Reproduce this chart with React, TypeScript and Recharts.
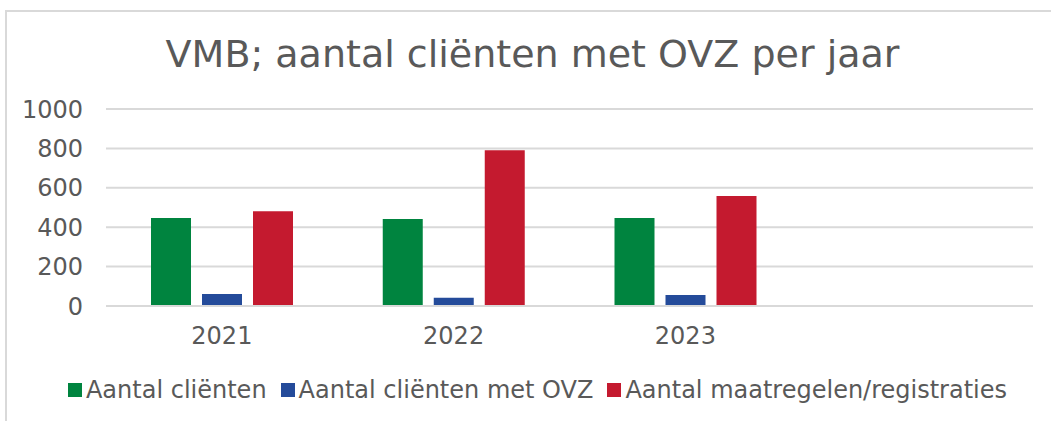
import React from "react";
import {
  BarChart,
  Bar,
  XAxis,
  YAxis,
  CartesianGrid,
  Legend,
} from "recharts";

const years = ["2021", "2022", "2023", ""];
const clienten = [447, 441, 447, null];
const clientenOvz = [61, 42, 56, null];
const maatregelen = [481, 790, 558, null];
const yTicks = [0, 200, 400, 600, 800, 1000];

const SERIES = [
  { key: "clienten", name: "Aantal cliënten", color: "#00843F" },
  { key: "ovz", name: "Aantal cliënten met OVZ", color: "#244B9A" },
  { key: "maatregelen", name: "Aantal maatregelen/registraties", color: "#C41A2F" },
];

const data = years.map((year, i) => ({
  year,
  clienten: clienten[i],
  ovz: clientenOvz[i],
  maatregelen: maatregelen[i],
}));

const FONT = "'DejaVu Sans', Verdana, sans-serif";
const TEXT = "#595959";

function ChartLegend() {
  return (
    <div
      style={{
        display: "flex",
        justifyContent: "center",
        alignItems: "center",
        height: 40,
        paddingLeft: 42,
        fontFamily: FONT,
        fontSize: 24,
        color: TEXT,
      }}
    >
      {SERIES.map((s, i) => (
        <div
          key={s.key}
          style={{ display: "flex", alignItems: "center", marginLeft: i === 0 ? 0 : 14 }}
        >
          <span
            style={{
              width: 14,
              height: 14,
              background: s.color,
              display: "inline-block",
              marginRight: 4,
            }}
          />
          <span>{s.name}</span>
        </div>
      ))}
    </div>
  );
}

export default function App() {
  return (
    <div
      style={{
        position: "absolute",
        left: 0,
        top: 0,
        width: 1051,
        height: 421,
        background: "#fff",
        overflow: "hidden",
      }}
    >
      <div
        style={{
          position: "absolute",
          left: 5,
          top: 10,
          width: 1100,
          height: 500,
          borderTop: "2px solid #d9d9d9",
          borderLeft: "2px solid #d9d9d9",
        }}
      />
      <div
        style={{
          position: "absolute",
          left: 0,
          top: 31,
          width: 1065,
          textAlign: "center",
          fontFamily: FONT,
          fontSize: 38,
          color: TEXT,
          lineHeight: "46px",
        }}
      >
        VMB; aantal cliënten met OVZ per jaar
      </div>
      <BarChart
        width={1051}
        height={421}
        data={data}
        margin={{ top: 109, right: 18, left: 0, bottom: 11 }}
        barSize={40}
        barGap={11}
        style={{ position: "absolute", left: 0, top: 0 }}
      >
        <CartesianGrid vertical={false} stroke="#d9d9d9" strokeWidth={2} />
        <XAxis
          dataKey="year"
          axisLine={{ stroke: "#d9d9d9", strokeWidth: 2 }}
          tickLine={false}
          height={64}
          tickMargin={15}
          tick={{ fill: TEXT, fontSize: 24, fontFamily: FONT }}
        />
        <YAxis
          domain={[0, 1000]}
          ticks={yTicks}
          width={106}
          axisLine={false}
          tickLine={false}
          tickMargin={17}
          tick={{ fill: TEXT, fontSize: 24, fontFamily: FONT }}
        />
        <Legend verticalAlign="bottom" content={() => <ChartLegend />} />
        {SERIES.map((s) => (
          <Bar
            key={s.key}
            dataKey={s.key}
            name={s.name}
            fill={s.color}
            isAnimationActive={false}
          />
        ))}
      </BarChart>
    </div>
  );
}
